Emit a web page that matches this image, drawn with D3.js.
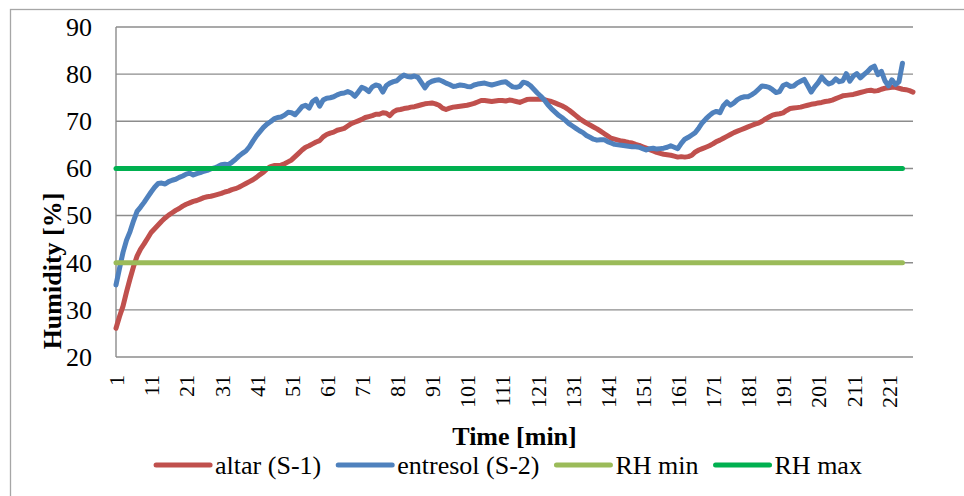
<!DOCTYPE html>
<html>
<head>
<meta charset="utf-8">
<script src="https://cdn.jsdelivr.net/npm/d3@7"></script>
<style>
  body { margin: 0; background: #fff; }
  svg { display: block; font-family: "Liberation Serif", "Times New Roman", serif; }
</style>
</head>
<body>
<svg id="chart" width="964" height="496"></svg>
<script>
// humidity readings, one per minute
const altar = [
  26.1, 28.6, 30.8, 33.8, 36.6, 39.2, 41.4, 42.9, 44.0, 45.2,
  46.4, 47.2, 48.0, 48.8, 49.5, 50.1, 50.6, 51.1, 51.5, 52.0,
  52.4, 52.7, 53.0, 53.2, 53.5, 53.8, 54.0, 54.1, 54.3, 54.5,
  54.7, 55.0, 55.2, 55.5, 55.7, 56.0, 56.4, 56.8, 57.2, 57.6,
  58.1, 58.7, 59.2, 59.9, 60.4, 60.6, 60.6, 60.7, 61.0, 61.4,
  61.8, 62.5, 63.2, 63.9, 64.5, 64.8, 65.2, 65.6, 65.9, 66.7,
  67.2, 67.5, 67.7, 68.1, 68.3, 68.5, 69.0, 69.5, 69.8, 70.1,
  70.4, 70.8, 71.0, 71.2, 71.5, 71.5, 71.8, 71.7, 71.2, 72.0,
  72.4, 72.5, 72.7, 72.8, 73.0, 73.1, 73.3, 73.5, 73.7, 73.8,
  73.9, 73.7, 73.4, 72.8, 72.5, 72.8, 73.0, 73.1, 73.2, 73.3,
  73.4, 73.6, 73.8, 74.1, 74.4, 74.4, 74.3, 74.2, 74.3, 74.4,
  74.4, 74.3, 74.5, 74.4, 74.2, 74.0, 74.3, 74.6, 74.7, 74.7,
  74.7, 74.7, 74.6, 74.4, 74.2, 73.9, 73.6, 73.3, 72.9, 72.4,
  71.8, 71.2, 70.6, 70.1, 69.6, 69.2, 68.8, 68.4, 67.9, 67.4,
  66.9, 66.4, 66.2, 66.0, 65.8, 65.7, 65.5, 65.4, 65.1, 64.9,
  64.6, 64.3, 64.0, 63.7, 63.4, 63.2, 63.0, 62.9, 62.8, 62.6,
  62.4, 62.5, 62.4, 62.5, 62.8, 63.5, 63.9, 64.2, 64.5, 64.8,
  65.2, 65.7, 66.0, 66.4, 66.8, 67.2, 67.6, 67.9, 68.2, 68.5,
  68.8, 69.1, 69.4, 69.6, 70.0, 70.5, 70.9, 71.3, 71.5, 71.6,
  71.8, 72.3, 72.7, 72.8, 72.9, 73.0, 73.2, 73.4, 73.6, 73.7,
  73.9, 74.0, 74.2, 74.3, 74.5, 74.8, 75.1, 75.4, 75.5, 75.6,
  75.7, 75.9, 76.1, 76.3, 76.5, 76.6, 76.4, 76.5, 76.8, 77.0,
  77.1, 77.2, 77.2, 77.0, 76.8, 76.7, 76.5, 76.2
];

const entresol = [
  35.3, 38.8, 42.2, 44.8, 46.6, 48.9, 50.9, 51.8, 52.8, 53.9,
  55.0, 56.0, 56.8, 56.9, 56.7, 57.2, 57.5, 57.7, 58.1, 58.4,
  58.8, 59.0, 58.6, 58.9, 59.1, 59.4, 59.6, 59.9, 60.1, 60.4,
  60.8, 60.9, 60.8, 61.3, 61.9, 62.6, 63.2, 63.7, 64.6, 65.8,
  66.9, 67.8, 68.7, 69.4, 69.9, 70.5, 70.8, 70.9, 71.3, 71.9,
  71.8, 71.4, 72.2, 73.1, 73.4, 72.8, 74.2, 74.7, 73.2, 74.5,
  74.9, 75.0, 75.2, 75.6, 75.9, 76.0, 76.3, 76.0, 75.3, 76.2,
  77.2, 76.9, 76.3, 77.3, 77.7, 77.5, 76.2, 77.6, 78.1, 78.4,
  78.6, 79.3, 79.8, 79.5, 79.4, 79.6, 79.3, 78.2, 77.1, 78.1,
  78.5, 78.7, 78.8, 78.5, 78.1, 77.8, 77.4, 77.5, 77.7, 77.6,
  77.4, 77.3, 77.7, 77.9, 78.0, 78.1, 77.9, 77.7, 77.9, 78.1,
  78.3, 78.4, 77.8, 77.3, 77.2, 77.4, 78.3, 78.1, 77.6, 76.8,
  76.0, 75.3, 74.5, 73.5, 72.7, 72.0, 71.3, 70.8, 70.2, 69.5,
  69.0, 68.5, 68.0, 67.6, 67.0, 66.6, 66.2, 66.0, 66.1, 66.1,
  65.7, 65.4, 65.1, 65.0, 64.9, 64.8, 64.7, 64.6, 64.6, 64.5,
  64.2, 63.9, 64.2, 64.3, 64.1, 64.2, 64.3, 64.5, 64.8, 64.5,
  64.2, 65.3, 66.2, 66.6, 67.1, 67.6, 68.6, 69.7, 70.5, 71.2,
  71.8, 72.1, 71.8, 73.3, 74.1, 73.4, 73.9, 74.6, 75.0, 75.2,
  75.2, 75.6, 76.1, 76.8, 77.5, 77.4, 77.2, 76.7, 76.1, 76.3,
  77.6, 77.9, 77.4, 77.5, 78.1, 78.5, 78.9, 77.6, 76.2, 77.3,
  78.2, 79.4, 78.5, 77.9, 78.2, 79.0, 78.4, 78.6, 80.1, 78.5,
  79.6, 80.1, 79.2, 79.9, 80.5, 81.3, 81.7, 79.9, 80.6, 78.6,
  77.5, 78.8, 77.8, 78.4, 82.3
];

// limit lines: constant value, drawn over minutes 1..225
const rhMin = 40;
const rhMax = 60;
const rhLastMinute = 225;

const yTicks = [20, 30, 40, 50, 60, 70, 80, 90];
const xTickLabels = [1, 11, 21, 31, 41, 51, 61, 71, 81, 91, 101, 111,
                     121, 131, 141, 151, 161, 171, 181, 191, 201, 211, 221];

const seriesNames = ["altar (S-1)", "entresol (S-2)", "RH min", "RH max"];
const seriesColors = ["#C0504D", "#4F81BD", "#9BBB59", "#00B050"];

const W = 964, H = 496;
const margin = {top: 27, right: 51, bottom: 139, left: 116};
const width = W - margin.left - margin.right;
const height = H - margin.top - margin.bottom;
const gridColor = "#8c8c8c";

const svg = d3.select("#chart");

// outer chart frame (runs off the bottom/right of the picture)
svg.append("rect")
  .attr("x", 10.5).attr("y", 9.5)
  .attr("width", 1000).attr("height", 600)
  .attr("fill", "none")
  .attr("stroke", "#a6a6a6")
  .attr("stroke-width", 1.3);

const g = svg.append("g")
  .attr("transform", `translate(${margin.left},${margin.top})`);

const x = d3.scaleLinear()
  .domain([1, altar.length])
  .range([0, width]);

const y = d3.scaleLinear()
  .domain([20, 90])
  .range([height, 0]);

// horizontal gridlines
g.selectAll(".grid")
  .data(yTicks)
  .enter()
  .append("line")
  .attr("x1", 0)
  .attr("x2", width)
  .attr("y1", d => y(d))
  .attr("y2", d => y(d))
  .attr("stroke", gridColor)
  .attr("stroke-width", 1.4);

// left axis line
g.append("line")
  .attr("x1", 0).attr("x2", 0)
  .attr("y1", 0).attr("y2", height)
  .attr("stroke", gridColor)
  .attr("stroke-width", 1.4);

// y axis labels
const yAxis = g.append("g")
  .call(d3.axisLeft(y).tickValues(yTicks).tickSize(0).tickPadding(24));
yAxis.select(".domain").remove();
yAxis.selectAll("text")
  .style("font-family", "Liberation Serif")
  .style("font-size", "26px")
  .attr("fill", "#000");

// x axis labels, rotated
const xAxis = g.append("g")
  .attr("transform", `translate(0,${height})`)
  .call(d3.axisBottom(x).tickValues(xTickLabels).tickSize(0).tickFormat(d3.format("d")));
xAxis.select(".domain").remove();
xAxis.selectAll("text")
  .attr("transform", "rotate(-90)")
  .attr("x", -18)
  .attr("y", 0)
  .attr("dy", "0.35em")
  .style("text-anchor", "end")
  .style("font-family", "Liberation Serif")
  .style("font-size", "22px")
  .attr("fill", "#000");

const line = d3.line()
  .x(d => x(d[0]))
  .y(d => y(d[1]));

const seriesData = [
  altar.map((v, i) => [i + 1, v]),
  entresol.map((v, i) => [i + 1, v]),
  [[1, rhMin], [rhLastMinute, rhMin]],
  [[1, rhMax], [rhLastMinute, rhMax]]
];

g.selectAll(".series")
  .data(seriesData)
  .enter()
  .append("path")
  .attr("class", "series")
  .attr("d", line)
  .attr("fill", "none")
  .attr("stroke", (d, i) => seriesColors[i])
  .attr("stroke-width", 5)
  .attr("stroke-linejoin", "round")
  .attr("stroke-linecap", "round");

// axis titles
svg.append("text")
  .attr("transform", "translate(52,271) rotate(-90)")
  .attr("text-anchor", "middle")
  .attr("dy", "0.35em")
  .style("font-weight", "bold")
  .style("font-size", "26px")
  .text("Humidity [%]");

svg.append("text")
  .attr("x", margin.left + width / 2)
  .attr("y", 445)
  .attr("text-anchor", "middle")
  .style("font-weight", "bold")
  .style("font-size", "26px")
  .text("Time [min]");

// legend
const legend = svg.append("g");
let lx = 0;
seriesNames.forEach((name, i) => {
  const item = legend.append("g").attr("transform", `translate(${lx},0)`);
  item.append("line")
    .attr("x1", 0).attr("x2", 54)
    .attr("y1", 0).attr("y2", 0)
    .attr("stroke", seriesColors[i])
    .attr("stroke-width", 5)
    .attr("stroke-linecap", "round");
  const t = item.append("text")
    .attr("x", 59)
    .attr("dy", "0.33em")
    .style("font-size", "26px")
    .text(name);
  lx += 59 + t.node().getComputedTextLength() + 17;
});
const legendWidth = lx - 17;
legend.attr("transform", `translate(${509 - legendWidth / 2},465)`);
</script>
</body>
</html>
